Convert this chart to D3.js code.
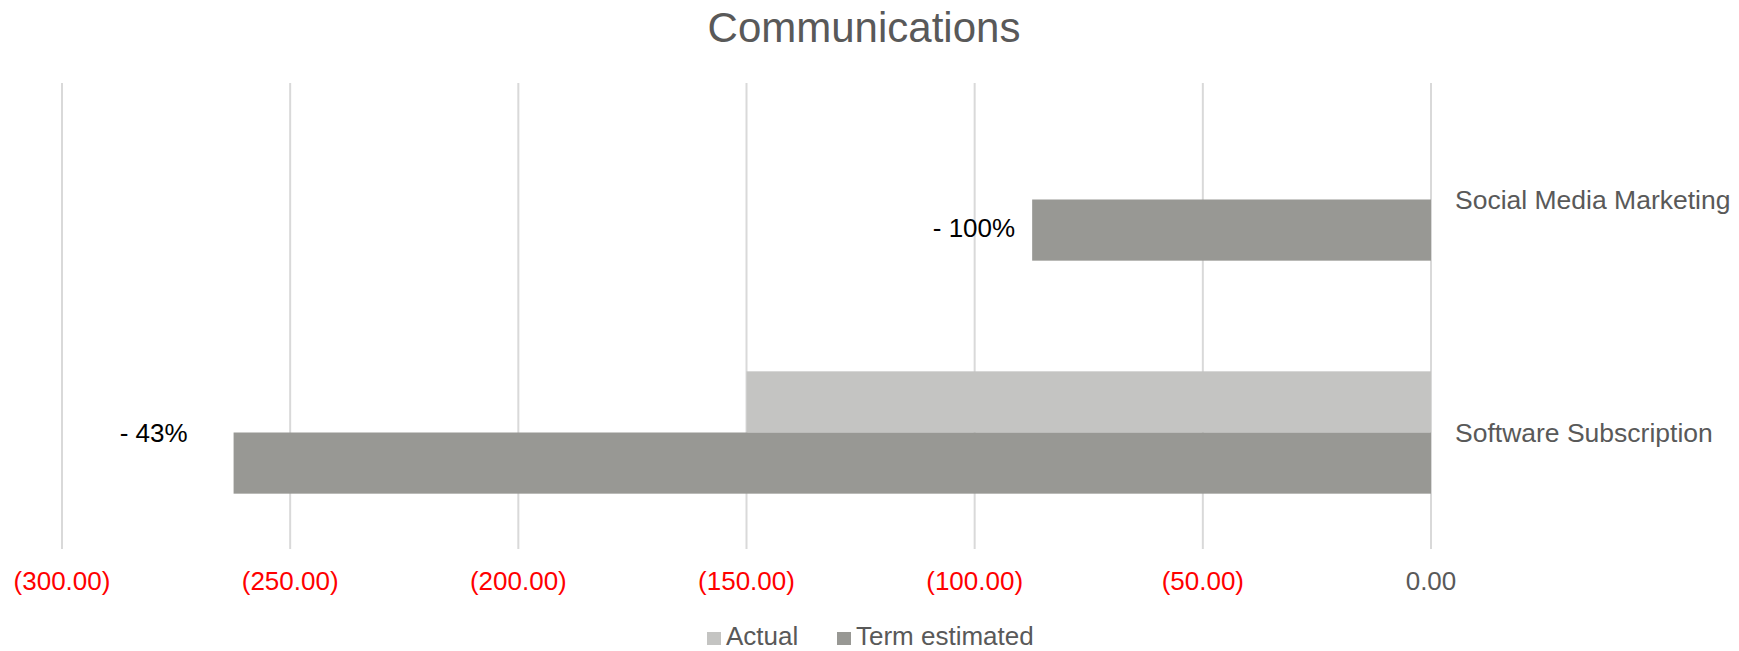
<!DOCTYPE html>
<html>
<head>
<meta charset="utf-8">
<script src="https://cdn.jsdelivr.net/npm/d3@7"></script>
<style>
  body { margin: 0; background: #ffffff; }
  text { font-family: "Liberation Sans", Arial, sans-serif; }
</style>
</head>
<body>
<div id="chart"></div>
<script>
// data
const categories = ["Social Media Marketing", "Software Subscription"]
const seriesNames = ["Actual", "Term estimated"]
const actualValues = [0, -150]
const termValues = [-87.4, -262.4]
const changeLabels = ["- 100%", "- 43%"]
const xTicks = [-300, -250, -200, -150, -100, -50, 0]

const width = 1739, height = 651
const colors = ["#c4c4c2", "#989894"]
const textGrey = "#595959"

const svg = d3.select("#chart").append("svg")
    .attr("width", width)
    .attr("height", height)

const x = d3.scaleLinear().domain([-300, 0]).range([62, 1431])

// Excel-like category spacing: half a gap at each end
const y = d3.scaleBand()
    .domain(categories)
    .range([83, 549])
    .paddingInner(0.475)
    .paddingOuter(0.2375)

const ySeries = d3.scaleBand()
    .domain(seriesNames)
    .range([0, y.bandwidth()])

// title
svg.append("text")
    .attr("x", 864)
    .attr("y", 42)
    .attr("text-anchor", "middle")
    .style("font-size", "42px")
    .style("fill", textGrey)
    .text("Communications")

// vertical gridlines
svg.append("g")
    .selectAll("line")
    .data(xTicks)
    .join("line")
    .attr("x1", d => x(d))
    .attr("x2", d => x(d))
    .attr("y1", 83)
    .attr("y2", 549)
    .attr("stroke", "#d9d9d9")
    .attr("stroke-width", 2)

// x axis tick labels, negatives in red with parentheses
const fmt = d3.format(",.2f")
svg.append("g")
    .selectAll("text")
    .data(xTicks)
    .join("text")
    .attr("x", d => x(d))
    .attr("y", 590)
    .attr("text-anchor", "middle")
    .style("font-size", "26px")
    .style("fill", d => d < 0 ? "#ff0000" : textGrey)
    .text(d => d < 0 ? "(" + fmt(-d) + ")" : fmt(d))

// bars
const rows = categories.map((c, i) => ({
    category: c,
    values: [actualValues[i], termValues[i]]
}))

const groups = svg.append("g")
    .selectAll("g")
    .data(rows)
    .join("g")
    .attr("transform", d => `translate(0,${y(d.category)})`)

groups.selectAll("rect")
    .data(d => d.values.map((v, j) => ({ name: seriesNames[j], value: v, j: j })))
    .join("rect")
    .attr("x", d => x(Math.min(0, d.value)))
    .attr("width", d => Math.abs(x(d.value) - x(0)))
    .attr("y", d => ySeries(d.name))
    .attr("height", ySeries.bandwidth())
    .attr("fill", d => colors[d.j])

// category labels on the right
svg.append("g")
    .selectAll("text")
    .data(categories)
    .join("text")
    .attr("x", x(0) + 24)
    .attr("y", d => y(d) + y.bandwidth() / 2)
    .attr("dy", "0.35em")
    .style("font-size", "26.5px")
    .style("fill", textGrey)
    .text(d => d)

// change labels next to the term estimated bars (placed by hand in the original)
const labelGap = [17, 46]
const labelRow = [0.5, 0]   // fraction of a bar height below the category centre
svg.append("g")
    .selectAll("text")
    .data(changeLabels)
    .join("text")
    .attr("x", (d, i) => x(termValues[i]) - labelGap[i])
    .attr("y", (d, i) => y(categories[i]) + y.bandwidth() / 2 + labelRow[i] * ySeries.bandwidth() - 4 * labelRow[i])
    .attr("dy", "0.35em")
    .attr("text-anchor", "end")
    .style("font-size", "26px")
    .style("fill", "#000000")
    .text(d => d)

// legend
const legend = svg.append("g")
const legendX = [707, 837]
seriesNames.forEach((name, i) => {
    legend.append("rect")
        .attr("x", legendX[i])
        .attr("y", 632)
        .attr("width", 14)
        .attr("height", 13)
        .attr("fill", colors[i])
    legend.append("text")
        .attr("x", legendX[i] + 19)
        .attr("y", 645)
        .style("font-size", "26px")
        .style("fill", textGrey)
        .text(name)
})
</script>
</body>
</html>
